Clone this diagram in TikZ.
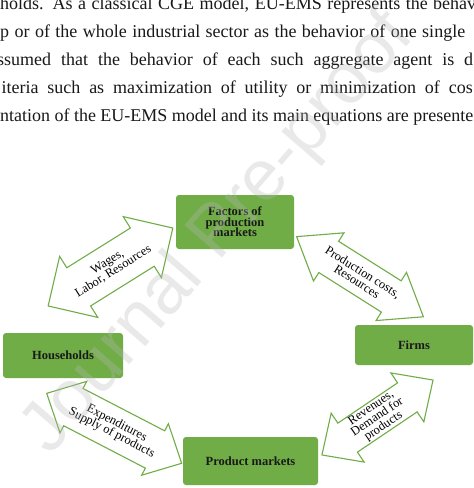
\documentclass[tikz,border=0pt]{standalone}
\usepackage{fontspec}
\setmainfont{Liberation Serif}
\newfontfamily\wmfont{Liberation Sans}
\definecolor{boxgreen}{RGB}{112,173,71}
\definecolor{wmgray}{RGB}{185,185,185}
\newcommand{\tightls}{\lineskiplimit=-20pt\relax}
\tikzset{
  box/.style={fill=boxgreen, rounded corners=3pt, inner sep=0pt, align=center,
    font=\fontsize{12.5}{10.6}\selectfont\bfseries\tightls, text=black!90},
  arrowline/.style={draw=boxgreen, line width=1.1pt, fill=white, line join=miter},
  arrowlabel/.style={inner sep=0pt, align=center, font=\fontsize{12.5}{11}\selectfont\tightls, text=black},
  bodyline/.style={anchor=base west, inner sep=0pt, font=\fontsize{18}{20}\selectfont, text=black!90},
  watermark/.style={inner sep=0pt, font=\wmfont\fontsize{72}{72}\selectfont, text=wmgray, opacity=0.3}
}
\newcommand{\dblarr}[8]{%
  \begin{scope}[shift={#2},rotate=#3]
    \draw[arrowline] (-#4/2,0) -- (-#4/2+#7,#5/2) -- (-#4/2+#7,#6/2) -- (#4/2-#7,#6/2)
      -- (#4/2-#7,#5/2) -- (#4/2,0) -- (#4/2-#7,-#5/2) -- (#4/2-#7,-#6/2)
      -- (-#4/2+#7,-#6/2) -- (-#4/2+#7,-#5/2) -- cycle;
    \node[arrowlabel,rotate=#3] (#1) at (0,0) {#8};
  \end{scope}}
\begin{document}
\begin{tikzpicture}[x=1pt,y=-1pt]
\useasboundingbox (0,0) rectangle (474,488);
\clip (0,0) rectangle (474,488);
\fill[white] (0,0) rectangle (474,488);
% body text
\node[bodyline] (l1) at (0,9.7) {\makebox[476pt][s]{holds. As a classical CGE model, EU-EMS represents the behav}};
\node[bodyline] (l2) at (0,37.7) {\makebox[465pt][s]{p or of the whole industrial sector as the behavior of one single}};
\node[bodyline] (l3) at (-3,65.7) {\makebox[476pt][s]{ssumed that the behavior of each such aggregate agent is d}};
\node[bodyline] (l4) at (1.5,93.7) {\makebox[471pt][s]{iteria such as maximization of utility or minimization of cos}};
\node[bodyline] (l5) at (0,121.7) {\makebox[473pt][s]{ntation of the EU-EMS model and its main equations are presente}};
% boxes
\node[box, minimum width=118pt, minimum height=54pt] (fac) at (235,222) {Factors of\\production\\markets};
\node[box, minimum width=120pt, minimum height=45pt] (hh) at (63,355.5) {Households};
\node[box, minimum width=118pt, minimum height=40pt] (firms) at (414,345) {Firms};
\node[box, minimum width=135pt, minimum height=48pt] (pm) at (250.5,461) {Product markets};
% double arrows
\dblarr{wages}{(110.5,267)}{32}{147}{72}{45}{36}{Wages,\\Labor, Resources}
\dblarr{prod}{(360,276.7)}{-32.3}{150}{57}{37}{38}{Production costs,\\Resources}
\dblarr{exp}{(114.2,428.3)}{-27.4}{152}{58}{42}{30}{Expenditures\\Supply of products}
\dblarr{rev}{(377.5,417.5)}{34}{134}{59}{35}{31}{Revenues,\\Demand for\\products}
% watermark
\node[watermark, rotate=49] (wm) at (219,234) {Journal Pre-proof};
\end{tikzpicture}
\end{document}
